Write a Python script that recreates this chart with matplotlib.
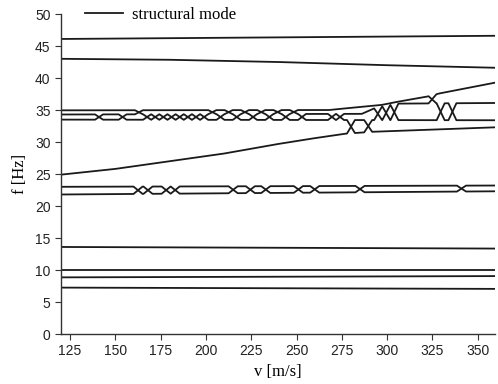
import numpy as np
import matplotlib.pyplot as plt

# velocity range of the diagram
v_start = 120
v_end = 360

# isolated modes: (v, f) anchor points
mode1_v = [120, 360]
mode1_f = [7.25, 7.05]
mode2_v = [120, 360]
mode2_f = [8.85, 9.05]
mode3_v = [120, 360]
mode3_f = [10.0, 10.0]
mode4_v = [120, 360]
mode4_f = [13.6, 13.35]
mode7_v = [120, 180, 240, 300, 360]
mode7_f = [43.0, 42.85, 42.5, 42.0, 41.6]
mode8_v = [120, 360]
mode8_f = [46.1, 46.6]

# pair of modes around 22-23 Hz: the two levels and the speeds where they swap
pair_up_v = [120, 360]
pair_up_f = [23.0, 23.2]
pair_lo_v = [120, 360]
pair_lo_f = [21.8, 22.3]
pair_swaps = [162.5, 168, 178, 183, 215, 224.5, 233, 251, 260, 285, 341]

# cluster around 31-39 Hz: four levels (top, middle, bottom, rising)
top_v = [120, 268, 275, 297, 306, 322, 329, 360]
top_f = [34.95, 35.0, 35.2, 35.8, 36.3, 37.1, 37.6, 39.3]
mid_v = [120, 286, 294, 306, 360]
mid_f = [34.3, 34.4, 35.4, 36.0, 36.1]
bot_v = [120, 360]
bot_f = [33.5, 33.4]
rise_v = [120, 150, 180, 210, 240, 260, 277, 292, 360]
rise_f = [24.9, 25.8, 27.0, 28.2, 29.7, 30.6, 31.3, 31.6, 32.3]
# (speed, level a, level b) where two traces swap levels; 0=top 1=mid 2=bot 3=rise
cluster_swaps = [
    (141, 1, 2), (154, 1, 2), (163, 0, 1),
    (167.5, 1, 2), (172, 1, 2), (176.5, 1, 2), (181, 1, 2), (185.5, 1, 2),
    (190, 1, 2), (194.5, 1, 2), (199, 1, 2),
    (203.5, 0, 1), (208, 1, 2), (212.5, 0, 1), (217, 1, 2), (221.5, 0, 1),
    (226, 1, 2), (230.5, 0, 1), (235, 1, 2), (239.5, 0, 1), (244, 1, 2),
    (248.5, 0, 1), (253, 1, 2),
    (269.5, 1, 2), (274, 1, 2), (280, 2, 3), (289.5, 2, 3),
    (295, 1, 2), (299.5, 1, 2), (304, 1, 2),
    (325, 0, 1), (329.5, 1, 2), (336, 1, 2),
]


def swap_traces(levels, swaps, hw):
    # each trace sits on a level and moves to the other level at a swap
    where = list(range(len(levels)))
    start = [v_start] * len(levels)
    paths = [([], []) for _ in levels]

    def stay(i, s, a, b):
        lv, lf = levels[s]
        vs = [a] + [x for x in lv if a < x < b] + [b]
        paths[i][0].extend(vs)
        paths[i][1].extend(np.interp(vs, lv, lf))

    for sw in swaps:
        c, a, b = sw
        i = where.index(a)
        j = where.index(b)
        stay(i, a, start[i], c - hw)
        stay(j, b, start[j], c - hw)
        where[i], where[j] = b, a
        start[i] = start[j] = c + hw
    for i in range(len(levels)):
        stay(i, where[i], start[i], v_end)
    return paths


col = "#1a1a1a"
lw = 1.3

fig = plt.figure(figsize=(4.98, 3.84), dpi=100)
ax = fig.add_axes([0.1225, 0.1302, 0.8715, 0.8333])

ax.plot(mode8_v, mode8_f, color=col, lw=lw, label="structural mode")
for mv, mf in [(mode1_v, mode1_f), (mode2_v, mode2_f), (mode3_v, mode3_f),
               (mode4_v, mode4_f), (mode7_v, mode7_f)]:
    ax.plot(mv, mf, color=col, lw=lw)

pair = swap_traces([(pair_up_v, pair_up_f), (pair_lo_v, pair_lo_f)],
                   [(c, 0, 1) for c in pair_swaps], 2.5)
for pv, pf in pair:
    ax.plot(pv, pf, color=col, lw=lw)

cluster = swap_traces([(top_v, top_f), (mid_v, mid_f), (bot_v, bot_f),
                       (rise_v, rise_f)], cluster_swaps, 2.2)
for pv, pf in cluster:
    ax.plot(pv, pf, color=col, lw=lw)

ax.set_xlim(120, 359.5)
ax.set_ylim(0, 50)
ax.set_xticks(range(125, 351, 25))
ax.set_yticks(range(0, 51, 5))
for s in ["top", "right"]:
    ax.spines[s].set_visible(False)
for s in ["left", "bottom"]:
    ax.spines[s].set_linewidth(1.0)
    ax.spines[s].set_color("#333333")
ax.tick_params(direction="out", length=4, width=0.8, color="#333333",
               labelsize=10, labelcolor="#222222")
for lab in ax.get_xticklabels() + ax.get_yticklabels():
    lab.set_family("Liberation Sans")

ax.set_xlabel("v [m/s]", family="Liberation Serif", fontsize=12, labelpad=4)
ax.set_ylabel("f [Hz]", family="Liberation Serif", fontsize=12, labelpad=5)

ax.legend(loc="center left", bbox_to_anchor=(0.055, 0.997), frameon=False,
          borderaxespad=0, borderpad=0, handlelength=2.3, handletextpad=0.5,
          prop={"family": "Liberation Serif", "size": 12})

fig.savefig("out.png", dpi=100)
